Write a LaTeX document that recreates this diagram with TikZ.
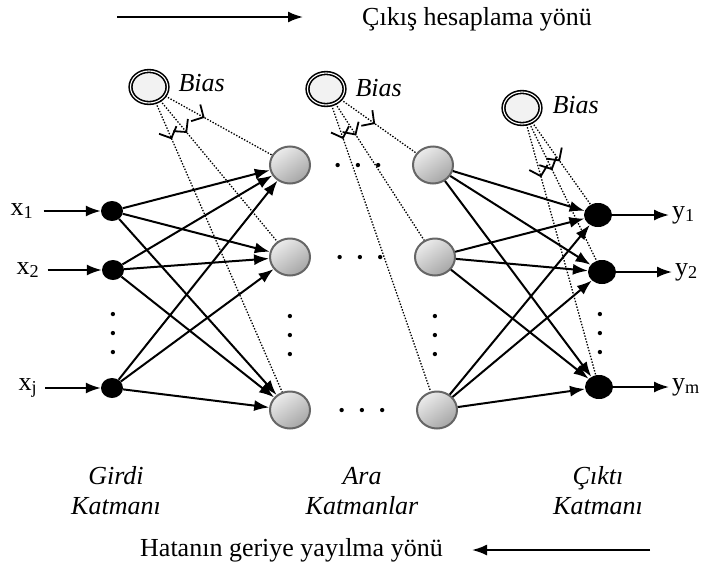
\documentclass[tikz,border=0pt]{standalone}
\usepackage{fontspec}
\setmainfont{Liberation Serif}
\usetikzlibrary{shapes.geometric,arrows.meta,positioning,decorations.markings}

\tikzset{
  inneuron/.style={ellipse,fill=black,minimum width=22pt,minimum height=20pt,inner sep=0pt},
  outneuron/.style={ellipse,fill=black,minimum width=28pt,minimum height=24pt,inner sep=0pt},
  hidneuron/.style={ellipse,draw=gray!80!black,line width=2pt,top color=gray!15,bottom color=gray!70,shading angle=35,minimum width=40pt,minimum height=37pt,inner sep=0pt},
  biasnode/.style={ellipse,draw,line width=1.6pt,double=white,double distance=1.1pt,fill=gray!10,minimum width=37pt,minimum height=32pt,inner sep=0pt},
  textfont/.style={font=\fontsize{26}{26}\selectfont},
  iolabel/.style={font=\fontsize{26}{26}\selectfont,inner sep=0pt},
  biaslabel/.style={font=\fontsize{26}{26}\selectfont\itshape,inner sep=0pt},
  layerlabel/.style={font=\fontsize{26}{30}\selectfont\itshape,align=center},
  dotsrow/.style={font=\fontsize{18}{18}\selectfont,inner sep=0pt},
  dotscol/.style={font=\fontsize{18}{19}\selectfont,align=center,inner sep=0pt},
  conn/.style={line width=2pt,-{Latex[length=15pt,width=11pt]}},
  biasline/.style={dash pattern=on 1.4pt off 1.6pt,line width=1.3pt,postaction=decorate,
    decoration={markings,mark=at position #1 with {\arrow{Straight Barb[length=9pt,width=19pt,line width=1.8pt]}}}}
}

\begin{document}
\begin{tikzpicture}[x=1pt,y=-1pt]
\useasboundingbox (0,0) rectangle (705,571);

% yon oklari
\coordinate (fwdStart) at (117,17);
\coordinate (fwdEnd) at (303,17);
\draw [conn] (fwdStart) -- (fwdEnd);
\node [textfont,anchor=west,inner sep=0pt] (fwdText) at (362,19) {Çıkış hesaplama yönü};
\coordinate (backStart) at (650,550);
\coordinate (backEnd) at (472,550);
\draw [conn] (backStart) -- (backEnd);
\node [textfont,anchor=west,inner sep=0pt] (backText) at (140,550) {Hatanın geriye yayılma yönü};

% girdi katmani
\node [inneuron] (In1) at (112,211) {};
\node [inneuron] (In2) at (113,270) {};
\node [inneuron] (InJ) at (112,388) {};
\node [iolabel] (X1) at (22,211) {x\textsubscript{1}};
\node [iolabel] (X2) at (28,270) {x\textsubscript{2}};
\node [iolabel] (XJ) at (28,388) {x\textsubscript{j}};
\node [dotscol] (InDots) at (113,335) {\textbullet\\\textbullet\\\textbullet};

% ara katmanlar
\node [hidneuron] (HidA1) at (290,165) {};
\node [hidneuron] (HidA2) at (290,257) {};
\node [hidneuron] (HidAN) at (290,410) {};
\node [hidneuron] (HidB1) at (433,165) {};
\node [hidneuron] (HidB2) at (435,257) {};
\node [hidneuron] (HidBN) at (437,410) {};
\node [dotscol] (HidADots) at (290,337) {\textbullet\\\textbullet\\\textbullet};
\node [dotscol] (HidBDots) at (435,337) {\textbullet\\\textbullet\\\textbullet};
\node [dotsrow] (RowDots1) at (358,167) {\textbullet\hspace{14pt}\textbullet\hspace{14pt}\textbullet};
\node [dotsrow] (RowDots2) at (360,259) {\textbullet\hspace{14pt}\textbullet\hspace{14pt}\textbullet};
\node [dotsrow] (RowDotsN) at (362,412) {\textbullet\hspace{14pt}\textbullet\hspace{14pt}\textbullet};

% cikti katmani
\node [outneuron] (Out1) at (598,215) {};
\node [outneuron] (Out2) at (602,272) {};
\node [outneuron] (OutM) at (599,387) {};
\node [iolabel,anchor=west] (Y1) at (672,215) {y\textsubscript{1}};
\node [iolabel,anchor=west] (Y2) at (675,272) {y\textsubscript{2}};
\node [iolabel,anchor=west] (YM) at (672,387) {y\textsubscript{m}};
\node [dotscol] (OutDots) at (600,335) {\textbullet\\\textbullet\\\textbullet};

% bias
\node [biasnode] (BiasA) at (149,87) {};
\node [biasnode] (BiasB) at (326,89) {};
\node [biasnode] (BiasC) at (522,108) {};
\node [biaslabel,right=10pt of BiasA,yshift=4pt] (BiasAText) {Bias};
\node [biaslabel,right=10pt of BiasB,yshift=1pt] (BiasBText) {Bias};
\node [biaslabel,right=11pt of BiasC,yshift=3pt] (BiasCText) {Bias};

% katman adlari
\node [layerlabel] (InName) at (116,491) {Girdi\\Katmanı};
\node [layerlabel] (HidName) at (362,491) {Ara\\Katmanlar};
\node [layerlabel] (OutName) at (598,491) {Çıktı\\Katmanı};

% girdi oklari
\draw [conn] ([xshift=10pt]X1.east) -- (In1);
\draw [conn] ([xshift=8pt]X2.east) -- (In2);
\draw [conn] ([xshift=8pt]XJ.east) -- (InJ);

% girdi -> ara
\draw [conn] (In1) -- (HidA1);
\draw [conn] (In1) -- (HidA2);
\draw [conn] (In1) -- (HidAN);
\draw [conn] (In2) -- (HidA1);
\draw [conn] (In2) -- (HidA2);
\draw [conn] (In2) -- (HidAN);
\draw [conn] (InJ) -- (HidA1);
\draw [conn] (InJ) -- (HidA2);
\draw [conn] (InJ) -- (HidAN);

% ara -> cikti
\draw [conn] (HidB1) -- (Out1);
\draw [conn] (HidB1) -- (Out2);
\draw [conn] (HidB1) -- (OutM);
\draw [conn] (HidB2) -- (Out1);
\draw [conn] (HidB2) -- (Out2);
\draw [conn] (HidB2) -- (OutM);
\draw [conn] (HidBN) -- (Out1);
\draw [conn] (HidBN) -- (Out2);
\draw [conn] (HidBN) -- (OutM);

% cikti oklari
\draw [conn] (Out1) -- ([xshift=-3pt]Y1.west);
\draw [conn] (Out2) -- ([xshift=-3pt]Y2.west);
\draw [conn] (OutM) -- ([xshift=-3pt]YM.west);

% bias baglantilari
\draw [biasline=45pt] (BiasA) -- (HidA1);
\draw [biasline=42pt] (BiasA) -- (HidA2);
\draw [biasline=40pt] (BiasA) -- (HidAN);
\draw [biasline=42pt] (BiasB) -- (HidB1);
\draw [biasline=38pt] (BiasB) -- (HidB2);
\draw [biasline=36pt] (BiasB) -- (HidBN);
\draw [biasline=48pt] (BiasC) -- (Out1);
\draw [biasline=52pt] (BiasC) -- (Out2);
\draw [biasline=55pt] (BiasC) -- (OutM);
\end{tikzpicture}
\end{document}
